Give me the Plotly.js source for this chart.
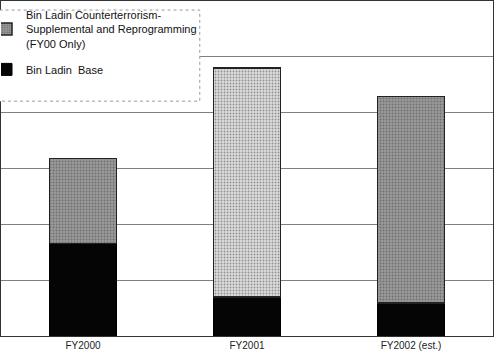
<!DOCTYPE html>
<html>
<head>
<meta charset="utf-8">
<script src="https://cdn.plot.ly/plotly-3.0.1.min.js"></script>
<style>html,body{margin:0;padding:0;background:#fff;}#chart{width:495px;height:363px;}</style>
</head>
<body>
<div id="chart"></div>
<script>
// Values read in gridline units (axis carries no labels)
const categories = ["FY2000", "FY2001", "FY2002 (est.)"];
const baseValues = [1.66, 0.70, 0.59];
const supplementalValues = [1.52, 4.10, 3.70];
const supplementalColors = ["#9a9a9a", "#dcdcdc", "#9a9a9a"];
const supplementalDots = ["#3c3c3c", "#9a9a9a", "#3c3c3c"];
const baseName = "Bin Ladin  Base";
const supplementalName = "Bin Ladin Counterterrorism-<br>Supplemental and Reprogramming<br>(FY00 Only)";

const traces = [
  {
    type: "bar", x: categories, y: baseValues, name: baseName,
    marker: {color: "#050505", line: {color: "#000", width: 1}},
    legendgroup: "b", legendrank: 2
  },
  {
    type: "bar", x: categories, y: supplementalValues, name: supplementalName,
    marker: {color: supplementalColors, line: {color: "#222", width: 1.5},
             pattern: {shape: ".", size: 3, solidity: 0.3, fillmode: "overlay", fgcolor: supplementalDots}},
    legendgroup: "a", legendrank: 1
  }
];

const layout = {
  width: 495, height: 363,
  margin: {l: 1, r: 2, t: 1, b: 27, pad: 0},
  paper_bgcolor: "#fff", plot_bgcolor: "#fff",
  barmode: "stack", bargap: 0.59,
  font: {family: "Liberation Sans, Arial, sans-serif", color: "#111"},
  xaxis: {showgrid: false, showline: true, linecolor: "#333", linewidth: 1, mirror: true,
          ticks: "", tickfont: {size: 10, color: "#222"}, fixedrange: true},
  yaxis: {range: [0, 6], dtick: 1, showgrid: true, gridcolor: "#808080", gridwidth: 1,
          showticklabels: false, zeroline: false, showline: true, linecolor: "#333", mirror: true},
  shapes: [{type: "rect", xref: "paper", yref: "paper", x0: -0.01, x1: 0.404, y0: 0.701, y1: 0.973,
            fillcolor: "#fff", line: {color: "#999", width: 1, dash: "dot"}, layer: "above"}],
  legend: {x: 0, y: 1, xanchor: "left", yanchor: "top", bgcolor: "rgba(0,0,0,0)",
           borderwidth: 0, font: {size: 11, color: "#111"}, tracegroupgap: 8, itemwidth: 30,
           indentation: -15},
  showlegend: true
};

Plotly.newPlot("chart", traces, layout, {displayModeBar: false, staticPlot: true});
</script>
</body>
</html>
